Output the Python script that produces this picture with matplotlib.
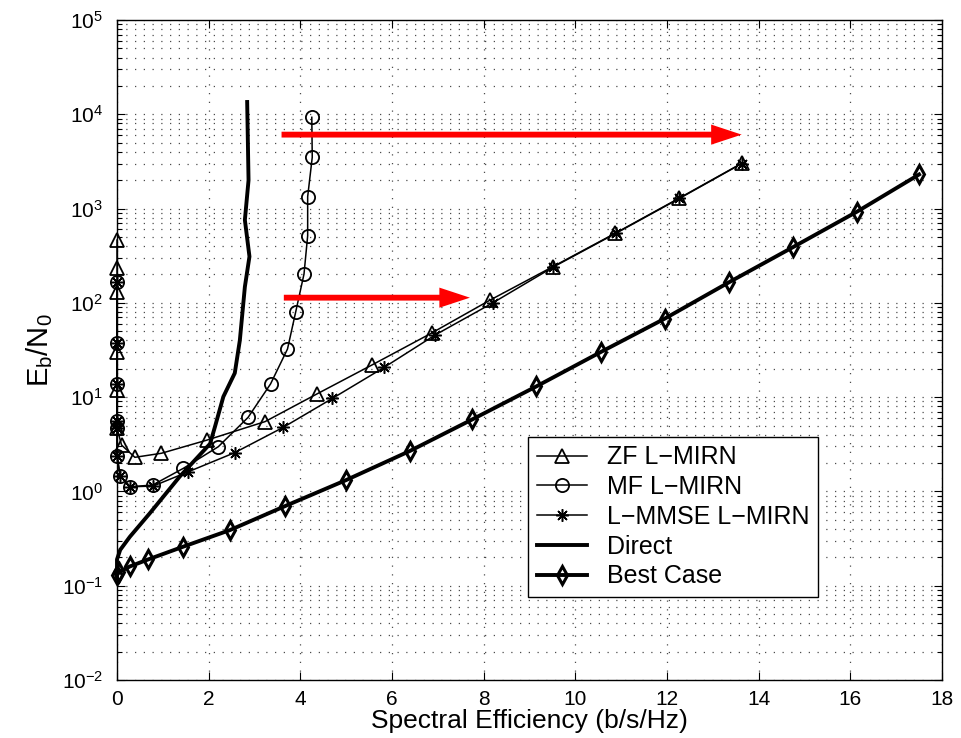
import matplotlib
matplotlib.use("Agg")
import matplotlib.pyplot as plt
from matplotlib import font_manager
from matplotlib.ticker import FixedLocator, NullFormatter, LogFormatterSciNotation

# ---------------- data ----------------
zf_x = [0, 0, 0, 0, 0, 0, 0.10, 0.39, 0.97, 1.96, 3.23, 4.36, 5.56, 6.87, 8.14, 9.51, 10.87, 12.26, 13.63]
zf_y = [464, 233, 131, 30, 11.9, 4.7, 3.1, 2.3, 2.54, 3.5, 5.5, 10.8, 21.9, 48, 107, 242, 547, 1285, 3020]

mf_x = [0, 0, 0, 0, 0, 0, 0.07, 0.29, 0.78, 1.45, 2.21, 2.86, 3.35, 3.72, 3.90, 4.08, 4.16, 4.16, 4.26, 4.25]
mf_y = [168, 37.6, 13.7, 5.6, 4.7, 2.4, 1.45, 1.12, 1.17, 1.76, 2.98, 6.1, 13.8, 32.4, 80.6, 202, 515, 1336, 3500, 9290]

mmse_x = [0, 0, 0, 0, 0, 0, 0.07, 0.29, 0.79, 1.56, 2.57, 3.63, 4.70, 5.83, 6.94, 8.20, 9.52, 10.88, 12.27, 13.63]
mmse_y = [168, 37.6, 13.7, 5.6, 4.7, 2.4, 1.45, 1.12, 1.14, 1.62, 2.58, 4.79, 9.7, 20.7, 45.6, 100, 240, 545, 1280, 3000]

dir_x = [0, 0, 0.07, 0.28, 0.72, 1.37, 2.03, 2.14, 2.32, 2.57, 2.68, 2.79, 2.89, 2.79, 2.87, 2.84]
dir_y = [0.12, 0.19, 0.24, 0.33, 0.59, 1.44, 3.2, 4.9, 10.1, 18, 40, 148, 310, 757, 2000, 13500]

best_x = [0, 0.05, 0.28, 0.68, 1.45, 2.47, 3.67, 5.0, 6.4, 7.75, 9.15, 10.55, 11.95, 13.35, 14.75, 16.15, 17.5]
best_y = [0.13, 0.14, 0.16, 0.19, 0.26, 0.39, 0.70, 1.32, 2.7, 5.8, 13, 30, 68, 165, 390, 930, 2300]

labels = ["ZF L\u2212MIRN", "MF L\u2212MIRN", "L\u2212MMSE L\u2212MIRN", "Direct", "Best Case"]

arrow_hi = (3.59, 13.63, 6085)
arrow_lo = (3.64, 7.70, 113.5)

x_ticks = [0, 2, 4, 6, 8, 10, 12, 14, 16, 18]
y_ticks = [1e-2, 1e-1, 1e0, 1e1, 1e2, 1e3, 1e4, 1e5]

# ---------------- style ----------------
names = {f.name for f in font_manager.fontManager.ttflist}
main_font = "Liberation Sans" if "Liberation Sans" in names else "DejaVu Sans"
narrow_font = "Liberation Sans Narrow" if "Liberation Sans Narrow" in names else main_font
plt.rcParams["font.family"] = [main_font, "DejaVu Sans"]
plt.rcParams["mathtext.fontset"] = "custom"
plt.rcParams["mathtext.rm"] = narrow_font
plt.rcParams["mathtext.it"] = narrow_font

fig = plt.figure(figsize=(9.62, 7.38), dpi=100)
ax = fig.add_axes([117/962, 1-680/738, 825/962, 660/738])

ax.plot(zf_x, zf_y, color="k", lw=1.1, marker="^", ms=10, mfc="none", mec="k", mew=1.3,
        label=labels[0], clip_on=False, zorder=3)
ax.plot(mf_x, mf_y, color="k", lw=1.1, marker="o", ms=9.5, mfc="none", mec="k", mew=1.3,
        label=labels[1], clip_on=False, zorder=3)
ax.plot(mmse_x, mmse_y, color="k", lw=1.1, marker=(8, 2, 0), ms=9, mew=1.1,
        label=labels[2], clip_on=False, zorder=3)
ax.plot(dir_x, dir_y, color="k", lw=2.8, label=labels[3], clip_on=False, zorder=3)
ax.plot(best_x, best_y, color="k", lw=2.8, marker="d", ms=9, mfc="none", mec="k", mew=2.2,
        label=labels[4], clip_on=False, zorder=3)

for (x0, x1, yv) in (arrow_hi, arrow_lo):
    ax.annotate("", xy=(x1, yv), xytext=(x0, yv),
                arrowprops=dict(arrowstyle="simple,head_length=2.2,head_width=1.45,tail_width=0.42",
                                color="red", lw=0, shrinkA=0, shrinkB=0, mutation_scale=10),
                zorder=5)

ax.set_yscale("log")
ax.set_xlim(0, 18)
ax.set_ylim(1e-2, 1e5)
ax.xaxis.set_major_locator(FixedLocator(x_ticks))
ax.yaxis.set_major_locator(FixedLocator(y_ticks))
ax.yaxis.set_major_formatter(LogFormatterSciNotation())
minor = [m * t for t in y_ticks[:-1] for m in range(2, 10)]
ax.yaxis.set_minor_locator(FixedLocator(minor))
ax.yaxis.set_minor_formatter(NullFormatter())

ax.grid(True, which="major", axis="both", ls=(0, (1, 6)), color="k", lw=0.9, alpha=0.7)
ax.grid(True, which="minor", axis="y", ls=(0, (1, 6)), color="k", lw=0.9, alpha=0.7)

ax.tick_params(which="both", direction="in", top=True, right=True, labelsize=15)
ax.tick_params(which="major", length=6, width=0.8)
ax.tick_params(which="minor", length=3.5, width=0.8)
ax.tick_params(axis="y", pad=10)
ax.tick_params(axis="x", pad=7)
for lab in ax.get_xticklabels():
    lab.set_fontfamily(narrow_font)
for sp in ax.spines.values():
    sp.set_linewidth(1.0)

ax.set_xlabel("Spectral Efficiency (b/s/Hz)", fontsize=19, labelpad=0)
ax.set_ylabel(r"E$_\mathregular{b}$/N$_\mathregular{0}$", fontsize=21, labelpad=5)

leg = ax.legend(loc="lower right", bbox_to_anchor=((818-117)/825, (680-597)/660),
                fontsize=18, frameon=True, fancybox=False, framealpha=1, edgecolor="k",
                handlelength=2.0, handletextpad=0.8, labelspacing=0.23, borderaxespad=0,
                borderpad=0.35)
leg.get_frame().set_linewidth(1.0)

fig.savefig("out.png", dpi=100)
